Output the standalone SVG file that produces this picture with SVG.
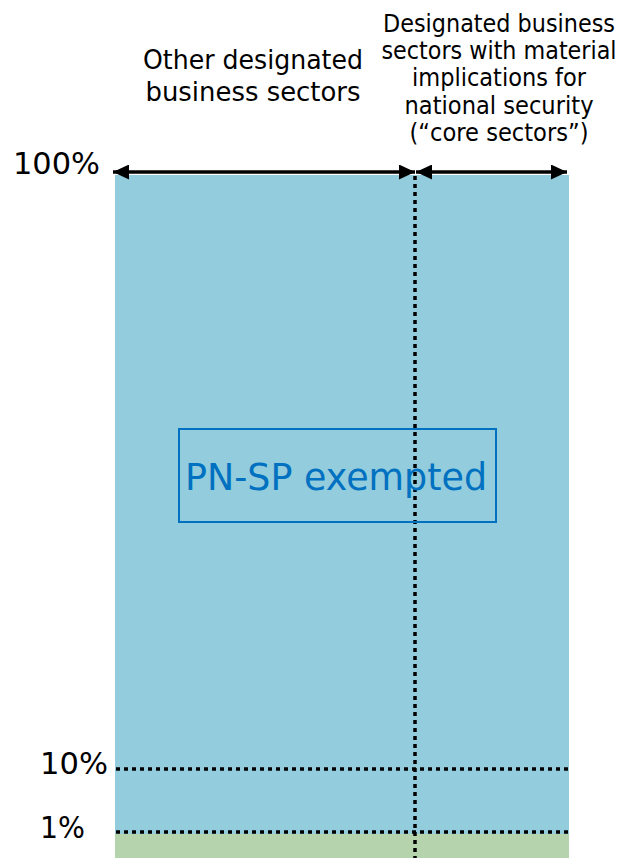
<svg xmlns="http://www.w3.org/2000/svg" width="625" height="858" viewBox="0 0 625 858">
<defs>
<style>
text{font-family:"DejaVu Sans","Liberation Sans",sans-serif;fill:#000}
.r{font-size:24px;text-anchor:middle}
.dot{stroke:#000;stroke-width:3.5;stroke-dasharray:4 4;fill:none}
.arr{stroke:#000;stroke-width:3.5;fill:none}
</style>
<marker id="ah" viewBox="0 0 16 15" refX="16" refY="7.5" markerWidth="16" markerHeight="15" orient="auto-start-reverse" markerUnits="userSpaceOnUse">
<path d="M0,0 L16,7.5 L0,15 z" fill="#000"/>
</marker>
</defs>
<g id="area">
<rect x="115" y="175" width="454" height="659" fill="#92CCDD"/>
<rect x="115" y="834" width="454" height="24" fill="#B5D4AD"/>
</g>
<g id="labels">
<text x="253" y="69" font-size="26" text-anchor="middle" textLength="220" lengthAdjust="spacingAndGlyphs">Other designated</text>
<text x="253" y="101" font-size="26" text-anchor="middle" textLength="215" lengthAdjust="spacingAndGlyphs">business sectors</text>
<text class="r" x="499" y="32" textLength="232" lengthAdjust="spacingAndGlyphs">Designated business</text>
<text class="r" x="499" y="59" textLength="235" lengthAdjust="spacingAndGlyphs">sectors with material</text>
<text class="r" x="499" y="86" textLength="174" lengthAdjust="spacingAndGlyphs">implications for</text>
<text class="r" x="499" y="114" textLength="189" lengthAdjust="spacingAndGlyphs">national security</text>
<text class="r" x="499" y="141" textLength="179" lengthAdjust="spacingAndGlyphs">(“core sectors”)</text>
<text x="13" y="174" font-size="30" textLength="87" lengthAdjust="spacingAndGlyphs">100%</text>
<text x="40" y="774" font-size="30" textLength="68" lengthAdjust="spacingAndGlyphs">10%</text>
<text x="40" y="838" font-size="30" textLength="45" lengthAdjust="spacingAndGlyphs">1%</text>
</g>
<g id="connectors">
<line class="arr" x1="113" y1="172" x2="415" y2="172" marker-start="url(#ah)" marker-end="url(#ah)"/>
<line class="arr" x1="416" y1="172" x2="567" y2="172" marker-start="url(#ah)" marker-end="url(#ah)"/>
<line class="dot" x1="415" y1="176" x2="415" y2="858"/>
<line class="dot" x1="116" y1="769" x2="569" y2="769"/>
<line class="dot" x1="116" y1="832" x2="569" y2="832"/>
</g>
<g id="exempt">
<rect x="179" y="429" width="317" height="93" fill="none" stroke="#0070C0" stroke-width="2"/>
<text x="336" y="490" font-size="37" text-anchor="middle" textLength="302" lengthAdjust="spacingAndGlyphs" style="fill:#0070C0">PN-SP exempted</text>
</g>
</svg>
